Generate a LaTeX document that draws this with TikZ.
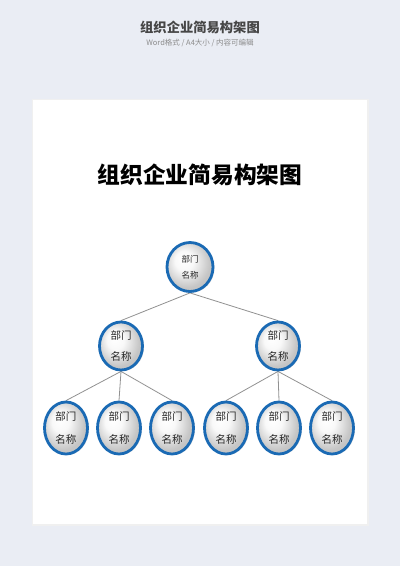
\documentclass[tikz,border=0pt]{standalone}
\usepackage{fontspec}
\setmainfont{Noto Sans CJK SC}
\newfontfamily\cjk{Noto Sans CJK SC}
\usetikzlibrary{shapes.geometric,shadows}
\definecolor{bgc}{RGB}{234,237,244}
\definecolor{deptblue}{RGB}{26,106,180}
\definecolor{linegray}{RGB}{145,145,145}
\definecolor{headgray}{RGB}{70,70,70}
\definecolor{subgray}{RGB}{140,140,140}
\pgfdeclarelayer{back}
\pgfdeclarelayer{bg}
\pgfsetlayers{back,bg,main}
\pgfdeclareradialshading{deptshade}{\pgfpoint{-8bp}{8bp}}{%
  color(0bp)=(white); color(10bp)=(white!95!gray); color(25bp)=(gray!45); color(50bp)=(gray!60)}
\tikzset{
  dept/.style={ellipse, draw=deptblue, line width=2.8pt, inner sep=0pt,
    shading=deptshade,
    drop shadow={shadow xshift=1.5pt, shadow yshift=-1pt, opacity=0.25, fill=gray}},
  big/.style={dept, minimum width=43pt, minimum height=52pt},
  mid/.style={dept, minimum width=43pt, minimum height=48pt},
  topn/.style={dept, minimum width=46pt, minimum height=49pt},
  conn/.style={draw=linegray, line width=0.8pt},
  txtb/.style={font=\cjk\fontsize{10.5}{13}\selectfont, text=black!85, align=center},
  txtt/.style={font=\cjk\fontsize{8.5}{10}\selectfont, text=black!85, align=center},
}
\begin{document}
\begin{tikzpicture}[x=1pt,y=-1pt]
\begin{pgfonlayer}{back}
\fill[bgc] (0,0) rectangle (400,566);
\fill[black!6] (31.5,98.5) rectangle (368.5,525.5);
\fill[white] (33,100) rectangle (367,524);
\end{pgfonlayer}
\useasboundingbox (0,0) rectangle (400,566);

\node[font=\cjk\bfseries\fontsize{13.3}{15}\selectfont, text=headgray] (head) at (200,27) {组织企业简易构架图};
\node[font=\cjk\fontsize{7.5}{9}\selectfont, text=subgray] (sub) at (200,43) {Word格式 / A4大小 / 内容可编辑};

\node[font=\cjk\bfseries\fontsize{22.7}{26}\selectfont, text=black] (title) at (200,175) {组织企业简易构架图};

\node[topn, label={[txtt]center:部门\\[6pt]名称}] (n0) at (190,267) {};
\node[mid, label={[txtb]center:部门\\[8pt]名称}] (n1) at (121,346) {};
\node[mid, label={[txtb]center:部门\\[8pt]名称}] (n2) at (278,346) {};
\node[big, label={[txtb]center:部门\\[10pt]名称}] (n3) at (66,428) {};
\node[big, label={[txtb]center:部门\\[10pt]名称}] (n4) at (119,428) {};
\node[big, label={[txtb]center:部门\\[10pt]名称}] (n5) at (172,428) {};
\node[big, label={[txtb]center:部门\\[10pt]名称}] (n6) at (226,428) {};
\node[big, label={[txtb]center:部门\\[10pt]名称}] (n7) at (279,428) {};
\node[big, label={[txtb]center:部门\\[10pt]名称}] (n8) at (332,428) {};

\begin{pgfonlayer}{bg}
\draw[conn] (n0.south) -- (n1.north);
\draw[conn] (n0.south) -- (n2.north);
\draw[conn] (n1.south) -- (n3.north);
\draw[conn] (n1.south) -- (n4.north);
\draw[conn] (n1.south) -- (n5.north);
\draw[conn] (n2.south) -- (n6.north);
\draw[conn] (n2.south) -- (n7.north);
\draw[conn] (n2.south) -- (n8.north);
\end{pgfonlayer}
\end{tikzpicture}
\end{document}
